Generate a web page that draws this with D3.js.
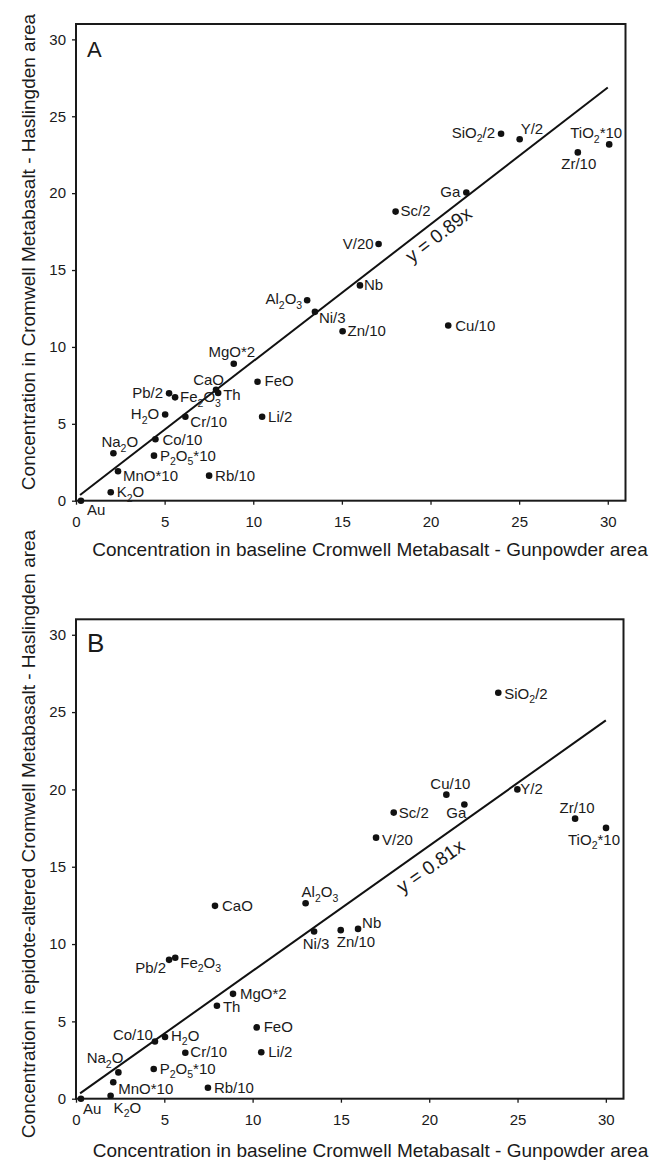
<!DOCTYPE html>
<html>
<head>
<meta charset="utf-8">
<script src="https://cdn.jsdelivr.net/npm/d3@7"></script>
<style>
  body { margin: 0; background: #fff; }
  svg text { font-family: "Liberation Sans", Arial, Helvetica, sans-serif; fill: #1a1a1a; }
</style>
</head>
<body>
<script>
const w = 650;
const h = 1160;

// element names, same order for both panels
const elements = ["Au", "K2O", "MnO*10", "Na2O", "P2O5*10", "Co/10", "H2O", "Cr/10",
  "Pb/2", "Fe2O3", "CaO", "Th", "MgO*2", "FeO", "Li/2", "Rb/10", "Al2O3", "Ni/3",
  "Nb", "Zn/10", "Cu/10", "V/20", "Sc/2", "Ga", "SiO2/2", "Y/2", "Zr/10", "TiO2*10"];

// panel A: baseline (Gunpowder) vs Haslingden
const xA = [0.28, 1.96, 2.37, 2.11, 4.40, 4.48, 5.03, 6.17, 5.25, 5.59, 7.90, 8.02, 8.90, 10.24,
  10.50, 7.51, 13.04, 13.48, 16.02, 15.04, 21.00, 17.07, 18.03, 22.02, 23.98, 25.03, 28.31, 30.08];
const yA = [0.00, 0.55, 1.92, 3.09, 2.93, 4.00, 5.61, 5.46, 6.98, 6.72, 7.22, 7.00, 8.91, 7.74,
  5.46, 1.63, 13.04, 12.28, 14.00, 11.02, 11.39, 16.69, 18.80, 20.04, 23.86, 23.51, 22.65, 23.17];

// panel B: baseline (Gunpowder) vs epidote-altered Haslingden
const xB = [0.28, 1.96, 2.11, 2.40, 4.40, 4.47, 5.04, 6.19, 5.27, 5.62, 7.87, 7.98, 8.89, 10.23,
  10.49, 7.47, 13.00, 13.48, 15.97, 14.99, 20.97, 16.99, 17.99, 21.99, 23.91, 24.99, 28.26, 30.01];
const yB = [0.00, 0.19, 1.06, 1.70, 1.92, 3.70, 3.99, 2.97, 8.98, 9.11, 12.47, 6.01, 6.78, 4.61,
  3.00, 0.71, 12.64, 10.81, 10.98, 10.90, 19.66, 16.88, 18.50, 19.02, 26.25, 20.00, 18.11, 17.51];

const ticks = [0, 5, 10, 15, 20, 25, 30];
const fitA = { slope: 0.89, intercept: 0.17, text: "y = 0.89x" };
const fitB = { slope: 0.81, intercept: 0.16, text: "y = 0.81x" };

// label placement (dx, dy, anchor) - layout only
const labelPosA = {
  "Au": [6, 14, "start"], "K2O": [6, 5, "start"], "MnO*10": [5, 10, "start"],
  "Na2O": [-12, -6, "start"], "P2O5*10": [6, 5, "start"], "Co/10": [7, 6, "start"],
  "H2O": [-6, 5, "end"], "Cr/10": [5, 10, "start"], "Pb/2": [-6, 5, "end"],
  "Fe2O3": [5, 5, "start"], "CaO": [8, -5, "end"], "Th": [5, 7, "start"],
  "MgO*2": [-2, -7, "middle"], "FeO": [7, 4, "start"], "Li/2": [6, 5, "start"],
  "Rb/10": [6, 5, "start"], "Al2O3": [-5, 4, "end"], "Ni/3": [4, 11, "start"],
  "Nb": [4, 5, "start"], "Zn/10": [5, 5, "start"], "Cu/10": [7, 5, "start"],
  "V/20": [-5, 5, "end"], "Sc/2": [5, 4, "start"], "Ga": [-6, 4, "end"],
  "SiO2/2": [-6, 4, "end"], "Y/2": [1, -5, "start"], "Zr/10": [1, 17, "middle"],
  "TiO2*10": [13, -6, "end"]
};
const labelPosB = {
  "Au": [2, 15, "start"], "K2O": [3, 17, "start"], "MnO*10": [5, 11.5, "start"],
  "Na2O": [5, -9, "end"], "P2O5*10": [6, 4.5, "start"], "Co/10": [-2, -1, "end"],
  "H2O": [6, 4, "start"], "Cr/10": [5, 4, "start"], "Pb/2": [-3, 13, "end"],
  "Fe2O3": [5, 10, "start"], "CaO": [7, 5, "start"], "Th": [6, 6, "start"],
  "MgO*2": [7, 5, "start"], "FeO": [7, 5, "start"], "Li/2": [7, 5, "start"],
  "Rb/10": [6, 5, "start"], "Al2O3": [-4, -6, "start"], "Ni/3": [2, 17, "middle"],
  "Nb": [4, -1, "start"], "Zn/10": [-4, 17, "start"], "Cu/10": [4, -6, "middle"],
  "V/20": [6, 7, "start"], "Sc/2": [5, 5, "start"], "Ga": [2, 13, "end"],
  "SiO2/2": [6, 6, "start"], "Y/2": [3, 5, "start"], "Zr/10": [2, -6, "middle"],
  "TiO2*10": [14, 17, "end"]
};

let svg = d3.select("body")
            .append("svg")
            .attr("width", w)
            .attr("height", h);

// write a formula with subscript digits (digit right after a letter)
function formula(textSel, name) {
  const parts = name.split(/(?<=[A-Za-z])(\d)/);
  let inSub = false;
  parts.forEach((s, i) => {
    if (s === "") return;
    const sub = i % 2 === 1;
    const t = textSel.append("tspan").text(s);
    if (sub) {
      t.attr("font-size", 10.5);
      if (!inSub) t.attr("dy", 4.5);
    } else if (inSub) {
      t.attr("dy", -4.5);
    }
    inSub = sub;
  });
}

function drawPanel(p) {
  const g = svg.append("g");
  const x = d3.scaleLinear().domain([0, 31]).range([p.left, p.right]);
  const y = d3.scaleLinear().domain([0, 31]).range([p.bottom, p.top]);

  g.append("g")
   .attr("transform", `translate(0,${p.bottom})`)
   .call(d3.axisBottom(x).tickValues(ticks).tickSizeInner(4).tickSizeOuter(0).tickPadding(12))
   .call(a => a.select(".domain").remove())
   .attr("font-size", 15)
   .attr("color", "#1a1a1a")
   .selectAll("line").attr("stroke-width", 1.3);

  g.append("g")
   .attr("transform", `translate(${p.left},0)`)
   .call(d3.axisLeft(y).tickValues(ticks).tickSizeInner(4).tickSizeOuter(0).tickPadding(6))
   .call(a => a.select(".domain").remove())
   .attr("font-size", 15)
   .attr("color", "#1a1a1a")
   .selectAll("line").attr("stroke-width", 1.3);

  // frame
  g.append("rect")
   .attr("x", p.left).attr("y", p.top)
   .attr("width", p.right - p.left).attr("height", p.bottom - p.top)
   .attr("fill", "none").attr("stroke", "#1a1a1a").attr("stroke-width", 2);

  // fit line
  const fx = [0.23, 30];
  g.append("line")
   .attr("x1", x(fx[0])).attr("y1", y(p.fit.slope * fx[0] + p.fit.intercept))
   .attr("x2", x(fx[1])).attr("y2", y(p.fit.slope * fx[1] + p.fit.intercept))
   .attr("stroke", "#111").attr("stroke-width", 2);

  const lx = p.fitLabelAt;
  const px = x(lx), py = y(p.fit.slope * lx + p.fit.intercept);
  const ang = Math.atan2(y(p.fit.slope * 30) - y(0), x(30) - x(0)) * 180 / Math.PI;
  g.append("text")
   .attr("transform", `translate(${px},${py}) rotate(${ang})`)
   .attr("y", p.fitLabelOff)
   .attr("text-anchor", "middle")
   .attr("font-size", 19)
   .text(p.fit.text);

  // points
  const rows = elements.map((name, i) => ({ name: name, x: p.xs[i], y: p.ys[i] }));
  g.selectAll("circle")
   .data(rows)
   .enter()
   .append("circle")
   .attr("cx", d => x(d.x))
   .attr("cy", d => y(d.y))
   .attr("r", 3.3)
   .attr("fill", "#111");

  g.selectAll("text.lbl")
   .data(rows)
   .enter()
   .append("text")
   .attr("class", "lbl")
   .attr("x", d => x(d.x) + p.labels[d.name][0])
   .attr("y", d => y(d.y) + p.labels[d.name][1])
   .attr("text-anchor", d => p.labels[d.name][2])
   .attr("font-size", 15)
   .each(function(d) { formula(d3.select(this), d.name); });

  // axis titles
  g.append("text")
   .attr("x", p.xTitleX).attr("y", p.xTitleY)
   .attr("text-anchor", "middle")
   .attr("font-size", 19)
   .text("Concentration in baseline Cromwell Metabasalt - Gunpowder area");

  g.append("text")
   .attr("transform", `translate(35,${p.yTitleY}) rotate(-90)`)
   .attr("text-anchor", "middle")
   .attr("font-size", 19)
   .text(p.yTitle);

  // panel letter
  g.append("text")
   .attr("x", p.left + 11).attr("y", p.letterY)
   .attr("font-size", p.letterSize)
   .text(p.letter);
}

drawPanel({
  left: 76, right: 625.5, top: 24, bottom: 500.7,
  xs: xA, ys: yA, labels: labelPosA, fit: fitA,
  fitLabelAt: 20, fitLabelOff: 19.5,
  xTitleX: 370, xTitleY: 555.5,
  yTitleY: 252, yTitle: "Concentration in Cromwell Metabasalt - Haslingden area",
  letter: "A", letterY: 57.3, letterSize: 22
});

drawPanel({
  left: 76, right: 623.5, top: 619.3, bottom: 1098.7,
  xs: xB, ys: yB, labels: labelPosB, fit: fitB,
  fitLabelAt: 19.5, fitLabelOff: 24,
  xTitleX: 370.5, xTitleY: 1156.5,
  yTitleY: 834, yTitle: "Concentration in epidote-altered Cromwell Metabasalt - Haslingden area",
  letter: "B", letterY: 651.7, letterSize: 26
});
</script>
</body>
</html>
